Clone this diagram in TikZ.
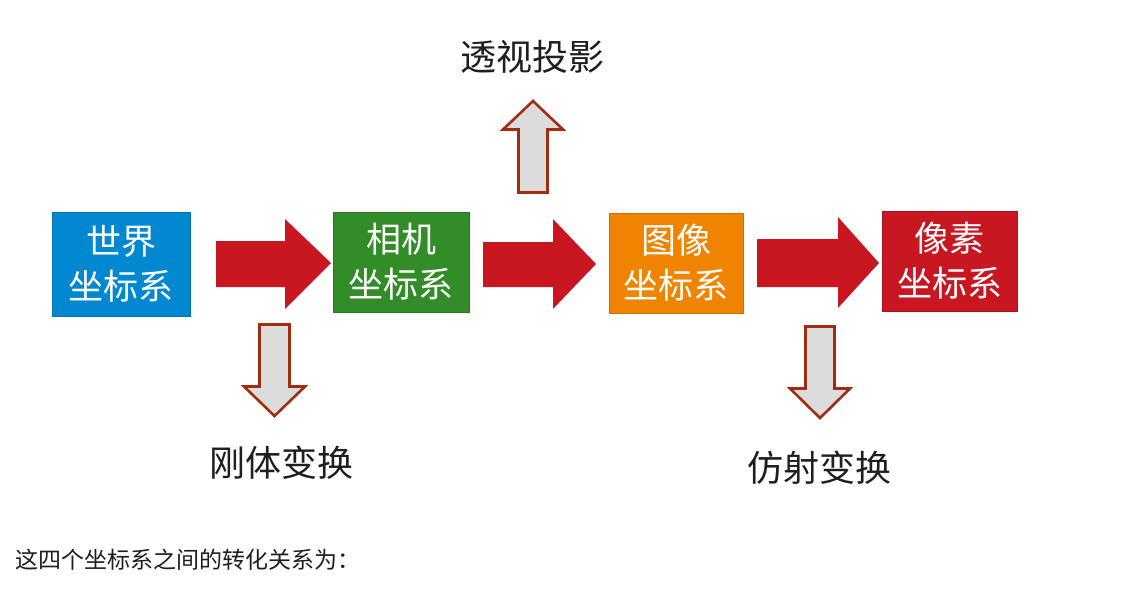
\documentclass[tikz,border=0pt]{standalone}
\usepackage{fontspec}
\setmainfont{Noto Sans CJK SC}
\newfontfamily\cjk{Noto Sans CJK SC}
\definecolor{cblue}{RGB}{2,136,209}
\definecolor{cgreen}{RGB}{50,140,40}
\definecolor{corange}{RGB}{240,131,0}
\definecolor{cred}{RGB}{200,23,32}
\definecolor{ared}{RGB}{200,23,32}
\definecolor{gfill}{RGB}{220,220,220}
\definecolor{gedge}{RGB}{160,45,15}
\definecolor{txt}{RGB}{30,30,30}
\begin{document}
\begin{tikzpicture}[x=1pt,y=-1pt,
  sysbox/.style={draw=#1!85!black, line width=0.6pt, fill=#1, text=white,
    font=\fontsize{35}{45}\selectfont\cjk, align=center, inner sep=0pt},
  redarrow/.style={fill=ared, draw=none},
  grayarrow/.style={fill=gfill, draw=gedge, line width=2.6pt, line join=miter},
  lbl/.style={font=\fontsize{36}{40}\selectfont\cjk, text=txt, inner sep=0pt}]
\useasboundingbox (0,0) rectangle (1134,596);
\fill[white] (0,0) rectangle (1134,596);
% boxes
\node[sysbox=cblue, minimum width=138pt, minimum height=104pt] (world) at (121,264) {世界\\坐标系};
\node[sysbox=cgreen, minimum width=136pt, minimum height=100pt] (camera) at (401,262) {相机\\坐标系};
\node[sysbox=corange, minimum width=134pt, minimum height=100pt] (image) at (676,263) {图像\\坐标系};
\node[sysbox=cred, minimum width=135pt, minimum height=100pt] (pixel) at (949.5,261) {像素\\坐标系};
% red block arrows
\fill[redarrow] (216,241) -- (285,241) -- (285,219) -- (331,263) -- (285,309) -- (285,287) -- (216,287) -- cycle;
\fill[redarrow] (483,242) -- (553,242) -- (553,219) -- (596,264) -- (553,309) -- (553,287) -- (483,287) -- cycle;
\fill[redarrow] (757,239) -- (838,239) -- (838,217) -- (879,263) -- (838,308) -- (838,287) -- (757,287) -- cycle;
% gray block arrows
\draw[grayarrow] (259.5,324.5) -- (289.5,324.5) -- (289.5,386.5) -- (305,386.5) -- (274.5,416) -- (244,386.5) -- (259.5,386.5) -- cycle;
\draw[grayarrow] (518.5,192.5) -- (547.5,192.5) -- (547.5,129.5) -- (563,129.5) -- (533,101) -- (503,129.5) -- (518.5,129.5) -- cycle;
\draw[grayarrow] (805.5,326.5) -- (834.5,326.5) -- (834.5,388.5) -- (850,388.5) -- (820,418) -- (790,388.5) -- (805.5,388.5) -- cycle;
% labels
\node[lbl] (persp) at (532,56.5) {透视投影};
\node[lbl] (rigid) at (281,462.5) {刚体变换};
\node[lbl] (affine) at (819,467.5) {仿射变换};
\node[font=\fontsize{23}{26}\selectfont\cjk, text=txt, inner sep=0pt, anchor=west] (caption) at (15,559.5) {这四个坐标系之间的转化关系为：};
\end{tikzpicture}
\end{document}
